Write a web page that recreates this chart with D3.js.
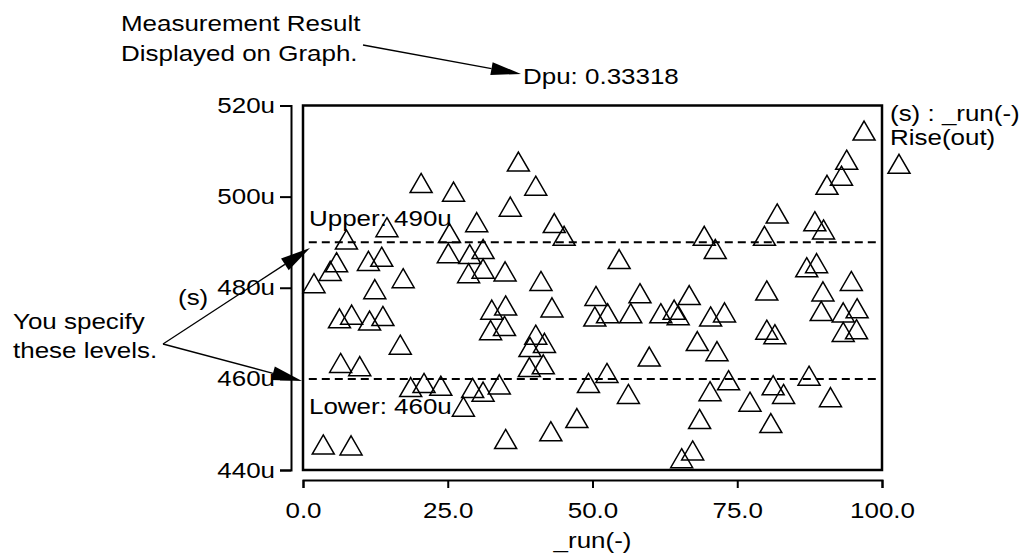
<!DOCTYPE html>
<html>
<head>
<meta charset="utf-8">
<script src="https://cdn.jsdelivr.net/npm/d3@7"></script>
<style>
  html, body { margin: 0; padding: 0; background: #fff; }
  svg { display: block; font-family: "Liberation Sans", Arial, Helvetica, sans-serif; }
</style>
</head>
<body>
<svg id="chart" width="1030" height="554"></svg>
<script>
// Monte Carlo run index and measured rise time of "out" (in u-seconds)
const runIndex = [
  1.9, 3.5, 4.7, 5.8, 6.3, 6.5, 7.5, 8.3, 8.4, 9.8,
  11.3, 11.5, 12.4, 13.6, 13.8, 14.5, 16.8, 17.3, 18.6, 20.4,
  20.9, 23.8, 25.1, 25.3, 26.0, 27.7, 28.6, 28.8, 29.3, 30.0,
  31.1, 31.1, 31.1, 32.6, 32.4, 33.9, 34.8, 34.9, 35.0, 35.0,
  35.8, 37.2, 39.1, 39.2, 40.2, 40.2, 41.1, 41.5, 41.7, 42.8,
  43.0, 43.4, 45.1, 47.3, 49.3, 50.4, 50.6, 52.5, 52.6, 54.6,
  56.2, 56.6, 58.2, 59.8, 61.8, 64.1, 64.8, 65.4, 67.3, 66.7,
  68.1, 68.5, 69.3, 70.3, 70.4, 71.2, 71.5, 72.8, 73.5, 77.2,
  79.7, 80.1, 80.1, 80.8, 81.2, 81.5, 81.9, 83.0, 87.0, 87.4,
  88.4, 88.7, 89.5, 89.8, 89.9, 90.5, 91.1, 93.0, 93.3, 93.3,
  93.9, 94.7, 95.6, 95.7, 96.9
];
const riseTime = [
  480.3, 444.9, 483.0, 484.9, 472.6, 462.8, 489.9, 444.7, 473.4, 462.1,
  485.2, 472.1, 479.0, 486.1, 473.1, 492.6, 466.8, 481.4, 457.5, 502.3,
  458.4, 457.8, 486.9, 491.3, 500.4, 453.2, 482.5, 486.7, 457.3, 493.7,
  487.8, 483.5, 456.5, 474.5, 470.0, 458.1, 470.9, 482.9, 475.4, 446.1,
  497.1, 507.0, 461.9, 466.3, 501.7, 469.0, 480.8, 462.5, 467.2, 447.8,
  475.0, 493.5, 490.7, 450.7, 458.4, 473.0, 477.5, 460.6, 473.7, 485.6,
  456.0, 473.7, 478.1, 464.2, 473.7, 474.5, 473.3, 441.9, 443.6, 477.7,
  467.6, 450.5, 490.7, 456.6, 473.0, 487.8, 465.4, 473.9, 459.0, 454.3,
  490.7, 478.7, 470.1, 449.6, 457.9, 469.1, 495.6, 456.0, 483.8, 460.0,
  493.9, 484.7, 474.2, 478.5, 492.1, 501.9, 455.3, 503.9, 473.9, 469.6,
  507.4, 480.8, 470.2, 474.8, 513.8
];

const xTickValues = [0, 25, 50, 75, 100];
const yTickValues = [440, 460, 480, 500, 520];
const limitValues = [490, 460];
const limitNames = ["Upper", "Lower"];
const measurementText = "Dpu: 0.33318";
const legendLines = ["(s) : _run(-)", "Rise(out)"];

const svg = d3.select("#chart");
const FONT = 22;
const STRETCH = 1.18;   // lettering is set slightly wide

const x = d3.scaleLinear().domain([0, 100]).range([303, 882]);
const y = d3.scaleLinear().domain([440, 520]).range([470, 105.5]);

// wide-set text helper
function label(parent, px, py, str, anchor = "start") {
  return parent.append("text")
    .attr("transform", `translate(${px},${py}) scale(${STRETCH},1)`)
    .attr("text-anchor", anchor)
    .attr("font-size", FONT)
    .attr("fill", "#000")
    .text(str);
}

// filled-head arrow
function arrow(parent, x1, y1, x2, y2, headLen = 30, headHalf = 6.5) {
  const dx = x2 - x1, dy = y2 - y1;
  const len = Math.hypot(dx, dy);
  const ux = dx / len, uy = dy / len;
  const bx = x2 - ux * headLen, by = y2 - uy * headLen;
  parent.append("line")
    .attr("x1", x1).attr("y1", y1).attr("x2", bx).attr("y2", by)
    .attr("stroke", "#000").attr("stroke-width", 1.3);
  parent.append("path")
    .attr("d", `M${x2},${y2}L${bx - uy * headHalf},${by + ux * headHalf}L${bx + uy * headHalf},${by - ux * headHalf}Z`)
    .attr("fill", "#000");
}

// plot frame
svg.append("rect")
  .attr("x", x(0)).attr("y", y(520))
  .attr("width", x(100) - x(0)).attr("height", y(440) - y(520))
  .attr("fill", "none").attr("stroke", "#000").attr("stroke-width", 2.5);

// y axis, detached to the left of the frame
const yAxis = svg.append("g")
  .attr("transform", "translate(291,0)")
  .call(d3.axisLeft(y).tickValues(yTickValues).tickFormat(d => d + "u")
    .tickSize(11).tickSizeOuter(11).tickPadding(5));
yAxis.attr("font-family", null).attr("font-size", null);
yAxis.selectAll("path, line").attr("stroke-width", 2);
yAxis.selectAll("text")
  .attr("font-size", FONT)
  .attr("x", -16 / STRETCH)
  .attr("transform", `scale(${STRETCH},1)`);

// x axis, detached below the frame
const xAxis = svg.append("g")
  .attr("transform", "translate(0,480)")
  .call(d3.axisBottom(x).tickValues(xTickValues).tickFormat(d3.format(".1f"))
    .tickSize(8).tickSizeOuter(8).tickPadding(14));
xAxis.attr("font-family", null).attr("font-size", null);
xAxis.selectAll("path, line").attr("stroke-width", 2);
xAxis.selectAll("text")
  .attr("font-size", FONT)
  .attr("transform", `scale(${STRETCH},1)`);

// axis titles
label(svg, (x(0) + x(100)) / 2, 548, "_run(-)", "middle");
label(svg, 178, 305, "(s)");

// specification limits
limitValues.forEach((v, i) => {
  svg.append("line")
    .attr("x1", x(1)).attr("x2", x(99))
    .attr("y1", y(v)).attr("y2", y(v))
    .attr("stroke", "#000").attr("stroke-width", 2)
    .attr("stroke-dasharray", "8,5");
  const ty = i === 0 ? y(v) - 16 : y(v) + 35;
  label(svg, 309, ty, `${limitNames[i]}: ${v}u`);
});

// measured points
const tri = d3.symbol(d3.symbolTriangle, 210);
svg.append("g").selectAll("path")
  .data(d3.zip(runIndex, riseTime))
  .join("path")
  .attr("transform", d => `translate(${x(d[0])},${y(d[1])})`)
  .attr("d", tri)
  .attr("fill", "none").attr("stroke", "#000").attr("stroke-width", 1.5);

// legend
label(svg, 890, 121, legendLines[0]);
label(svg, 890, 145, legendLines[1]);
svg.append("path")
  .attr("transform", "translate(899,167)")
  .attr("d", tri)
  .attr("fill", "none").attr("stroke", "#000").attr("stroke-width", 1.5);

// annotation: measurement result
label(svg, 121, 31, "Measurement Result");
label(svg, 121, 61, "Displayed on Graph.");
label(svg, 523, 84, measurementText);
arrow(svg, 363, 45, 521, 74);

// annotation: user-specified levels
label(svg, 13, 329, "You specify");
label(svg, 13, 358, "these levels.");
arrow(svg, 163, 344, 310, 248, 30, 7);
arrow(svg, 163, 344, 302, 381, 30, 7);
</script>
</body>
</html>
